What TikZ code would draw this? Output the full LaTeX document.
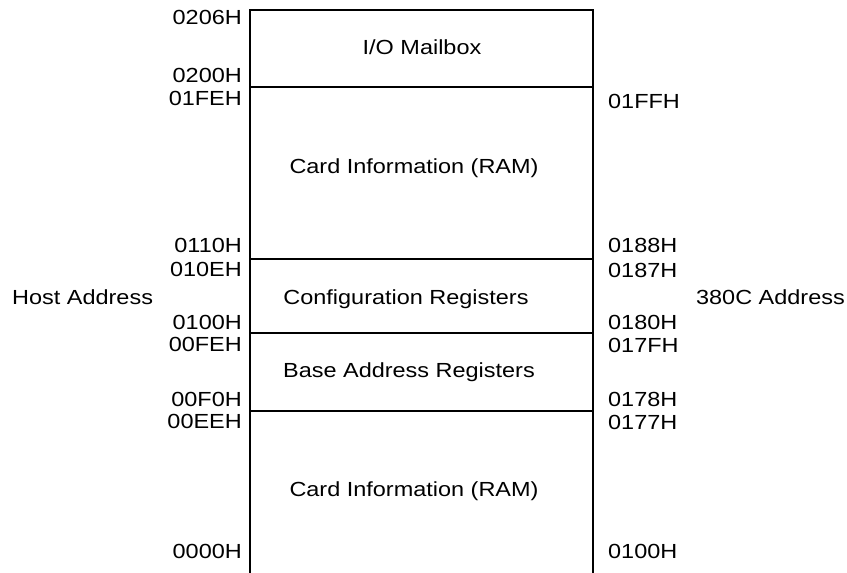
\documentclass[tikz,border=0pt]{standalone}
\usepackage{fontspec}
\setmainfont{Liberation Sans}
\newcommand{\wide}[1]{\scalebox{1.15}[1]{#1}}
\begin{document}
\begin{tikzpicture}[x=1pt,y=-1pt,
  lbl/.style={inner sep=0pt,font=\fontsize{20.4}{22}\selectfont},
  laddr/.style={lbl,anchor=base east},
  raddr/.style={lbl,anchor=base west},
  region/.style={lbl,anchor=base},
  frame/.style={line width=2pt}]
\useasboundingbox (0,0) rectangle (847,573);
% memory map outline (open at bottom)
\coordinate (bl) at (249.5,573);
\coordinate (tl) at (249.5,10);
\coordinate (tr) at (593,10);
\coordinate (br) at (593,573);
\draw[frame] (bl) -- (tl) -- (tr) -- (br);
\coordinate (d1l) at (249.5,86.5); \coordinate (d1r) at (593,86.5);
\coordinate (d2l) at (249.5,259);  \coordinate (d2r) at (593,259);
\coordinate (d3l) at (249.5,333);  \coordinate (d3r) at (593,333);
\coordinate (d4l) at (249.5,411);  \coordinate (d4r) at (593,411);
\draw[frame] (d1l) -- (d1r);
\draw[frame] (d2l) -- (d2r);
\draw[frame] (d3l) -- (d3r);
\draw[frame] (d4l) -- (d4r);
% region names
\node[region] (mb) at (422,54) {\wide{I/O Mailbox}};
\node[region] (ci1) at (414,173) {\wide{Card Information (RAM)}};
\node[region] (cfg) at (406,304) {\wide{Configuration Registers}};
\node[region] (bar) at (409,377) {\wide{Base Address Registers}};
\node[region] (ci2) at (414,496) {\wide{Card Information (RAM)}};
% side titles
\node[lbl,anchor=base west] (host) at (12,304) {\wide{Host Address}};
\node[lbl,anchor=base east] (c380) at (845,304) {\wide{380C Address}};
% host addresses
\node[laddr] (h1) at (242,24.5) {\wide{0206H}};
\node[laddr] (h2) at (242,82) {\wide{0200H}};
\node[laddr] (h3) at (242,105) {\wide{01FEH}};
\node[laddr] (h4) at (242,252) {\wide{0110H}};
\node[laddr] (h5) at (242,276) {\wide{010EH}};
\node[laddr] (h6) at (242,329) {\wide{0100H}};
\node[laddr] (h7) at (242,351) {\wide{00FEH}};
\node[laddr] (h8) at (242,406) {\wide{00F0H}};
\node[laddr] (h9) at (242,428) {\wide{00EEH}};
\node[laddr] (h10) at (242,558) {\wide{0000H}};
% 380C addresses
\node[raddr] (r1) at (608,108) {\wide{01FFH}};
\node[raddr] (r2) at (608,252) {\wide{0188H}};
\node[raddr] (r3) at (608,277) {\wide{0187H}};
\node[raddr] (r4) at (608,329) {\wide{0180H}};
\node[raddr] (r5) at (608,352) {\wide{017FH}};
\node[raddr] (r6) at (608,406) {\wide{0178H}};
\node[raddr] (r7) at (608,429) {\wide{0177H}};
\node[raddr] (r8) at (608,558) {\wide{0100H}};
\end{tikzpicture}
\end{document}
